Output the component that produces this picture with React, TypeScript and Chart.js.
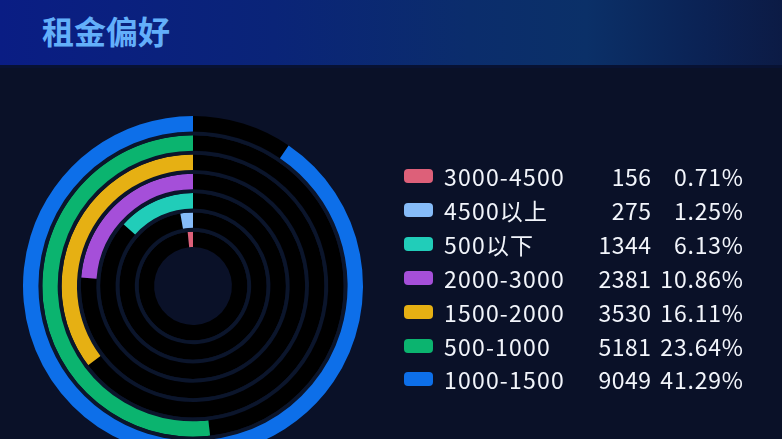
import React, { useEffect, useRef } from 'react';
import { Chart, registerables } from 'chart.js';

Chart.register(...registerables);

// outer ring first
const categories = ['1000-1500', '500-1000', '1500-2000', '2000-3000', '500以下', '4500以上', '3000-4500'];
const counts = [9049, 5181, 3530, 2381, 1344, 275, 156];
const colors = ['#0d6fe9', '#0bb46f', '#e6b013', '#a54fd9', '#21cdb9', '#86bcf9', '#dd6079'];
const axisMax = 10000;

const total = counts.reduce((s, v) => s + v, 0);

const TRACK = '#000000';
const GAP = '#0b152b';
const BG = '#0a1128';

const RentRings: React.FC = () => {
  const canvasRef = useRef<HTMLCanvasElement>(null);
  const chartRef = useRef<Chart | null>(null);

  useEffect(() => {
    if (!canvasRef.current) return;
    const ctx = canvasRef.current.getContext('2d');
    if (!ctx) return;

    const datasets: any[] = [];
    counts.forEach((v, i) => {
      if (i > 0) {
        datasets.push({
          data: [1],
          backgroundColor: [GAP],
          borderWidth: 0,
          weight: 0.25
        });
      }
      datasets.push({
        label: categories[i],
        data: [axisMax - v, v],
        backgroundColor: [TRACK, colors[i]],
        borderWidth: 0,
        weight: 1
      });
    });

    chartRef.current = new Chart(ctx, {
      type: 'doughnut',
      data: { labels: ['', ''], datasets },
      options: {
        animation: false,
        responsive: true,
        maintainAspectRatio: false,
        radius: 170,
        cutout: '22.9%',
        plugins: {
          legend: { display: false },
          tooltip: { enabled: false }
        }
      }
    });

    return () => {
      if (chartRef.current) {
        chartRef.current.destroy();
        chartRef.current = null;
      }
    };
  }, []);

  return <canvas ref={canvasRef}></canvas>;
};

export default function App() {
  const font = '"Noto Sans CJK SC", "Noto Sans", sans-serif';
  const legendRows = categories.map((c, i) => ({ name: c, value: counts[i], color: colors[i] })).reverse();

  return (
    <div
      style={{
        position: 'fixed',
        left: 0,
        top: 0,
        width: 782,
        height: 439,
        overflow: 'hidden',
        background: BG,
        fontFamily: font
      }}
    >
      {/* 标题栏 */}
      <div
        style={{
          position: 'absolute',
          left: 0,
          top: 0,
          width: 782,
          height: 65,
          background: 'linear-gradient(90deg, #0a1d84 0%, #0a2478 35%, #0b2d6c 60%, #0b3068 75%, #0b2254 90%, #0c1b45 100%)',
          borderBottom: '3px solid #081233'
        }}
      >
        <div
          style={{
            position: 'absolute',
            left: 42,
            top: 10,
            fontSize: 32,
            fontWeight: 'bold',
            color: '#63affa',
            lineHeight: '40px'
          }}
        >
          租金偏好
        </div>
      </div>

      {/* 环形图 */}
      <div style={{ position: 'absolute', left: 13, top: 106, width: 360, height: 360 }}>
        <RentRings />
      </div>

      {/* 图例 */}
      {legendRows.map((r, i) => {
        const top = 176 + i * 33.9;
        return (
          <div key={r.name} style={{ position: 'absolute', left: 0, top: top - 17, width: 782, height: 34, color: '#f2f5fb', fontSize: 23, lineHeight: '34px' }}>
            <div style={{ position: 'absolute', left: 404, top: 10, width: 29, height: 14, borderRadius: 4, background: r.color }} />
            <div style={{ position: 'absolute', left: 444, top: 0, whiteSpace: 'nowrap', letterSpacing: '1.2px' }}>{r.name}</div>
            <div style={{ position: 'absolute', left: 560, width: 91.5, top: 0, textAlign: 'right', letterSpacing: '0.5px' }}>{r.value}</div>
            <div style={{ position: 'absolute', left: 640, width: 103.8, top: 0, textAlign: 'right', letterSpacing: '0.8px' }}>
              {((r.value / total) * 100).toFixed(2)}%
            </div>
          </div>
        );
      })}
    </div>
  );
}
